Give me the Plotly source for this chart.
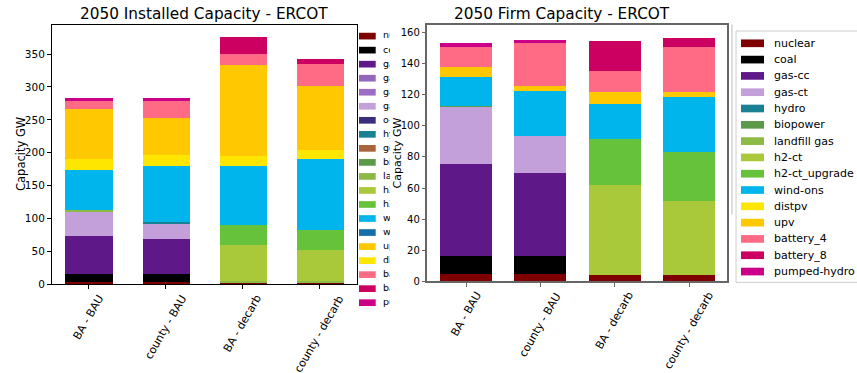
import plotly.graph_objects as go

W, H = 857, 373
FONT = "DejaVu Sans"

CATS = ["BA - BAU", "county - BAU", "BA - decarb", "county - decarb"]

# ---- 2050 Installed Capacity (GW), stacked bottom -> top ----
INST_NUCLEAR = [3.0, 3.0, 3.0, 3.0]
INST_COAL = [12.0, 12.0, 0.0, 0.0]
INST_GAS_CC = [58.2, 53.8, 0.0, 0.0]
INST_GAS_CC_CCS_MOD = [0.0, 0.0, 0.0, 0.0]
INST_GAS_CC_CCS_MAX = [0.0, 0.0, 0.0, 0.0]
INST_GAS_CT = [37.4, 23.9, 0.0, 0.0]
INST_OGS = [0.0, 0.0, 0.0, 0.0]
INST_HYDRO = [0.0, 1.5, 0.0, 0.0]
INST_GEOTHERMAL = [0.0, 0.0, 0.0, 0.0]
INST_BIOPOWER = [0.0, 0.0, 0.0, 0.0]
INST_LANDFILL = [2.0, 0.0, 1.5, 1.5]
INST_H2_CT = [0.0, 0.0, 55.3, 47.8]
INST_H2_CT_UPG = [0.0, 0.0, 29.9, 29.9]
INST_WIND_ONS = [60.8, 85.2, 89.7, 107.6]
INST_WIND_OFS = [0.0, 0.0, 0.0, 0.0]
INST_DISTPV = [16.4, 16.4, 14.9, 15.0]
INST_UPV = [76.2, 56.8, 139.0, 97.2]
INST_BATTERY_4 = [13.5, 26.9, 16.5, 32.8]
INST_BATTERY_8 = [0.0, 0.0, 25.4, 7.5]
INST_PUMPED_HYDRO = [3.0, 3.0, 0.0, 0.0]

# ---- 2050 Firm Capacity (GW) ----
FIRM_NUCLEAR = [5.0, 5.0, 4.6, 4.6]
FIRM_COAL = [11.4, 11.4, 0.0, 0.0]
FIRM_GAS_CC = [59.4, 53.7, 0.0, 0.0]
FIRM_GAS_CT = [36.6, 23.4, 0.0, 0.0]
FIRM_HYDRO = [0.0, 0.0, 0.0, 0.0]
FIRM_BIOPOWER = [0.8, 0.0, 0.0, 0.0]
FIRM_LANDFILL = [0.0, 0.0, 0.0, 0.0]
FIRM_H2_CT = [0.0, 0.0, 57.9, 47.2]
FIRM_H2_CT_UPG = [0.0, 0.0, 29.1, 31.6]
FIRM_WIND_ONS = [18.2, 29.0, 22.7, 35.4]
FIRM_DISTPV = [0.0, 0.0, 0.0, 0.0]
FIRM_UPV = [6.3, 3.2, 7.6, 3.1]
FIRM_BATTERY_4 = [13.3, 27.8, 13.3, 29.1]
FIRM_BATTERY_8 = [0.0, 0.0, 19.6, 5.7]
FIRM_PUMPED_HYDRO = [2.5, 1.9, 0.0, 0.0]

COLORS = {
    "nuclear": "#7f0000", "coal": "#000000", "gas-cc": "#5e1888",
    "gas-cc-ccs_mod": "#9467bd", "gas-cc-ccs_max": "#9b6dc6", "gas-ct": "#c3a0da",
    "o-g-s": "#3c2d7a", "hydro": "#1a8094", "geothermal": "#a8643a",
    "biopower": "#5a9a48", "landfill gas": "#8cba44", "h2-ct": "#a9c83a",
    "h2-ct_upgrade": "#66c23a", "wind-ons": "#00b4ec", "wind-ofs": "#146eaa",
    "upv": "#ffc800", "distpv": "#ffe600", "battery_4": "#ff6a85",
    "battery_8": "#cc0060", "pumped-hydro": "#cc0088",
}

INST_STACK = [
    ("nuclear", INST_NUCLEAR), ("coal", INST_COAL), ("gas-cc", INST_GAS_CC),
    ("gas-cc-ccs_mod", INST_GAS_CC_CCS_MOD), ("gas-cc-ccs_max", INST_GAS_CC_CCS_MAX),
    ("gas-ct", INST_GAS_CT), ("o-g-s", INST_OGS), ("hydro", INST_HYDRO),
    ("geothermal", INST_GEOTHERMAL), ("biopower", INST_BIOPOWER),
    ("landfill gas", INST_LANDFILL), ("h2-ct", INST_H2_CT),
    ("h2-ct_upgrade", INST_H2_CT_UPG), ("wind-ons", INST_WIND_ONS),
    ("wind-ofs", INST_WIND_OFS), ("distpv", INST_DISTPV), ("upv", INST_UPV),
    ("battery_4", INST_BATTERY_4), ("battery_8", INST_BATTERY_8),
    ("pumped-hydro", INST_PUMPED_HYDRO),
]
INST_LEGEND = ["nuclear", "coal", "gas-cc", "gas-cc-ccs_mod", "gas-cc-ccs_max", "gas-ct",
               "o-g-s", "hydro", "geothermal", "biopower", "landfill gas", "h2-ct",
               "h2-ct_upgrade", "wind-ons", "wind-ofs", "upv", "distpv", "battery_4",
               "battery_8", "pumped-hydro"]

FIRM_STACK = [
    ("nuclear", FIRM_NUCLEAR), ("coal", FIRM_COAL), ("gas-cc", FIRM_GAS_CC),
    ("gas-ct", FIRM_GAS_CT), ("hydro", FIRM_HYDRO), ("biopower", FIRM_BIOPOWER),
    ("landfill gas", FIRM_LANDFILL), ("h2-ct", FIRM_H2_CT),
    ("h2-ct_upgrade", FIRM_H2_CT_UPG), ("wind-ons", FIRM_WIND_ONS),
    ("distpv", FIRM_DISTPV), ("upv", FIRM_UPV), ("battery_4", FIRM_BATTERY_4),
    ("battery_8", FIRM_BATTERY_8), ("pumped-hydro", FIRM_PUMPED_HYDRO),
]

def px(x):
    return x / W

def py(y):
    return 1 - y / H

L_BOTTOM, L_TOP = 289.0, 25.5
R_BOTTOM, R_TOP = 286.0, 25.0

fig = go.Figure()

for name, vals in INST_STACK:
    fig.add_trace(go.Bar(x=CATS, y=vals, name=name, marker_color=COLORS[name],
                         marker_line_width=0, width=0.61, xaxis="x", yaxis="y",
                         showlegend=False))
for name, vals in FIRM_STACK:
    fig.add_trace(go.Bar(x=CATS, y=vals, name=name, marker_color=COLORS[name],
                         marker_line_width=0, width=0.7, xaxis="x2", yaxis="y2",
                         showlegend=False))

# Left legend text (clipped by a hidden helper axis, as in the reference)
L_Y0, L_DY = 36.7, 14.26
fig.add_trace(go.Scatter(
    x=[383] * len(INST_LEGEND), y=[L_Y0 + i * L_DY for i in range(len(INST_LEGEND))],
    text=INST_LEGEND, mode="text", textposition="middle right",
    textfont=dict(family=FONT, size=9.5, color="#000"),
    xaxis="x3", yaxis="y3", showlegend=False, hoverinfo="skip", cliponaxis=True))

shapes = []
for i, name in enumerate(INST_LEGEND):
    cy = L_Y0 + i * L_DY
    shapes.append(dict(type="rect", xref="paper", yref="paper",
                       x0=px(359), x1=px(375.7), y0=py(cy + 3.4), y1=py(cy - 3.4),
                       fillcolor=COLORS[name], line_width=0, layer="above"))

# Right legend
shapes.append(dict(type="line", xref="paper", yref="paper", x0=px(732), x1=px(732),
                   y0=py(25), y1=py(218), line=dict(color="#bbbbbb", width=1)))
shapes.append(dict(type="rect", xref="paper", yref="paper", x0=px(736), x1=px(875),
                   y0=py(287), y1=py(31.5), line=dict(color="#cccccc", width=1),
                   fillcolor="white", layer="below"))
R_Y0, R_DY = 44.0, 16.57
annotations = []
for i, (name, _) in enumerate(FIRM_STACK):
    cy = R_Y0 + i * R_DY
    shapes.append(dict(type="rect", xref="paper", yref="paper",
                       x0=px(741), x1=px(764), y0=py(cy + 3.9), y1=py(cy - 3.9),
                       fillcolor=COLORS[name], line_width=0, layer="above"))
    annotations.append(dict(x=px(772), y=py(cy), xref="paper", yref="paper",
                            text=name, showarrow=False, xanchor="left", yanchor="middle",
                            font=dict(family=FONT, size=11, color="#000")))

# Rotated category labels, centred under each tick (matplotlib style)
for cat in CATS:
    annotations.append(dict(x=cat, y=py(L_BOTTOM + 6), xref="x", yref="paper", text=cat,
                            showarrow=False, textangle=-60, xanchor="center", yanchor="top",
                            font=dict(family=FONT, size=11, color="#000")))
    annotations.append(dict(x=cat, y=py(R_BOTTOM + 6), xref="x2", yref="paper", text=cat,
                            showarrow=False, textangle=-60, xanchor="center", yanchor="top",
                            font=dict(family=FONT, size=11, color="#000")))

annotations += [
    dict(x=px(204), y=py(14), xref="paper", yref="paper", text="2050 Installed Capacity - ERCOT",
         showarrow=False, xanchor="center", yanchor="middle",
         font=dict(family=FONT, size=15.3, color="#000")),
    dict(x=px(562), y=py(14), xref="paper", yref="paper", text="2050 Firm Capacity - ERCOT",
         showarrow=False, xanchor="center", yanchor="middle",
         font=dict(family=FONT, size=15.3, color="#000")),
    dict(x=px(21.5), y=py(157), xref="paper", yref="paper", text="Capacity GW",
         showarrow=False, textangle=-90, xanchor="center", yanchor="middle",
         font=dict(family=FONT, size=11.5, color="#000")),
    dict(x=px(397), y=py(156), xref="paper", yref="paper", text="Capacity GW",
         showarrow=False, textangle=-90, xanchor="center", yanchor="middle",
         font=dict(family=FONT, size=11, color="#000")),
]

common_x = dict(type="category", showline=True, mirror=True, ticks="outside", ticklen=3.5,
                tickwidth=1, showticklabels=False, showgrid=False, zeroline=False)
common_y = dict(showline=True, mirror=True, ticks="outside", ticklen=3.5, tickwidth=1,
                showgrid=False, zeroline=False)

fig.update_layout(
    width=W, height=H, margin=dict(l=0, r=0, t=0, b=0),
    paper_bgcolor="white", plot_bgcolor="white", barmode="stack", bargap=0,
    font=dict(family=FONT, color="#000"),
    xaxis=dict(**common_x, domain=[px(51.5), px(356.7)], range=[-0.48, 3.48],
               anchor="y", linecolor="#000", tickcolor="#000"),
    yaxis=dict(**common_y, domain=[py(L_BOTTOM), py(L_TOP)], range=[0, 394], dtick=50,
               anchor="x", linecolor="#000", tickcolor="#000",
               tickfont=dict(family=FONT, size=10.5, color="#000")),
    xaxis2=dict(**common_x, domain=[px(427), px(727.3)], range=[-0.525, 3.515],
                anchor="y2", linecolor="#666", tickcolor="#666", linewidth=1.5),
    yaxis2=dict(**common_y, domain=[py(R_BOTTOM), py(R_TOP)], range=[0, 165], dtick=20,
                anchor="x2", linecolor="#666", tickcolor="#666", linewidth=1.5,
                tickfont=dict(family=FONT, size=10, color="#000")),
    xaxis3=dict(domain=[px(357.5), px(390)], range=[357.5, 390], visible=False,
                anchor="y3", fixedrange=True),
    yaxis3=dict(domain=[0, 1], range=[H, 0], visible=False, anchor="x3", fixedrange=True),
    shapes=shapes, annotations=annotations, showlegend=False, hovermode=False,
)

# remove the default page margin so the 857x373 figure fills the window exactly
fig.write_html("out.html", config={"displayModeBar": False},
               post_script="document.body.style.margin='0';document.body.style.overflow='hidden';")
